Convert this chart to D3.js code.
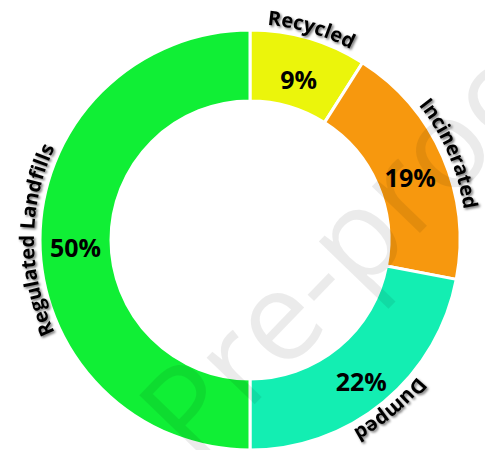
<!DOCTYPE html>
<html>
<head>
<meta charset="utf-8">
<script src="https://cdn.jsdelivr.net/npm/d3@7"></script>
<style>
  html, body { margin: 0; padding: 0; background: #fff; }
  svg { display: block; }
</style>
</head>
<body>
<svg id="chart" width="485" height="450"></svg>
<script>
// Waste disposal shares (percent)
const categories = ["Recycled", "Incinerated", "Dumped", "Regulated Landfills"];
const values = [9, 19, 22, 50];
const sliceColors = ["#ebf50b", "#f7980e", "#13eeb2", "#10ef35"];
const watermark = "Pre-proof";

const width = 485, height = 450;
const cx = 250, cy = 240;
const outerR = 210, innerR = 139;
const labelR = 216;

const svg = d3.select("#chart");

const defs = svg.append("defs");
const shadow = defs.append("filter")
  .attr("id", "txtShadow")
  .attr("x", "-20%").attr("y", "-40%")
  .attr("width", "140%").attr("height", "180%");
shadow.append("feDropShadow")
  .attr("dx", 1.6).attr("dy", 1.6)
  .attr("stdDeviation", 1.3)
  .attr("flood-color", "#000")
  .attr("flood-opacity", 0.55);

const pie = d3.pie().sort(null).value(d => d.value).startAngle(0).endAngle(2 * Math.PI);
const data = categories.map((c, i) => ({ name: c, value: values[i], color: sliceColors[i] }));
const arcs = pie(data);

const arc = d3.arc().innerRadius(innerR).outerRadius(outerR);

const g = svg.append("g").attr("transform", `translate(${cx},${cy})`);

g.selectAll("path.slice")
  .data(arcs)
  .join("path")
  .attr("class", "slice")
  .attr("d", arc)
  .attr("fill", d => d.data.color)
  .attr("stroke", "#fff")
  .attr("stroke-width", 3);

// percentage labels at slice centroids
g.selectAll("text.pct")
  .data(arcs)
  .join("text")
  .attr("class", "pct")
  .attr("transform", d => {
    const [x, y] = arc.centroid(d);
    return `translate(${x},${y + 8})`;
  })
  .attr("text-anchor", "middle")
  .attr("dy", "0.35em")
  .attr("font-family", "'Open Sans', sans-serif")
  .attr("font-weight", 700)
  .attr("font-size", 25)
  .attr("fill", "#000")
  .text(d => d.data.value + "%");

// curved category labels running clockwise just outside the ring
const pt = a => [labelR * Math.sin(a), -labelR * Math.cos(a)];
g.selectAll("path.lblpath")
  .data(arcs)
  .join("path")
  .attr("class", "lblpath")
  .attr("id", (d, i) => "lbl" + i)
  .attr("fill", "none")
  .attr("d", d => {
    const m = (d.startAngle + d.endAngle) / 2;
    const s = pt(m - Math.PI / 2), e = pt(m + Math.PI / 2);
    return `M${s[0]},${s[1]} A${labelR},${labelR} 0 0 1 ${e[0]},${e[1]}`;
  });

g.selectAll("text.cat")
  .data(arcs)
  .join("text")
  .attr("class", "cat")
  .attr("font-family", "'Open Sans', sans-serif")
  .attr("font-weight", 700)
  .attr("font-size", 20)
  .attr("fill", "#000")
  .attr("filter", "url(#txtShadow)")
  .append("textPath")
  .attr("href", (d, i) => "#lbl" + i)
  .attr("startOffset", "50%")
  .attr("text-anchor", "middle")
  .text(d => d.data.name);

// faint diagonal watermark
svg.append("text")
  .attr("transform", "translate(195,466) rotate(-46)")
  .attr("font-family", "'Open Sans', sans-serif")
  .attr("font-size", 125)
  .attr("fill", "#000")
  .attr("fill-opacity", 0.08)
  .text(watermark);
</script>
</body>
</html>
